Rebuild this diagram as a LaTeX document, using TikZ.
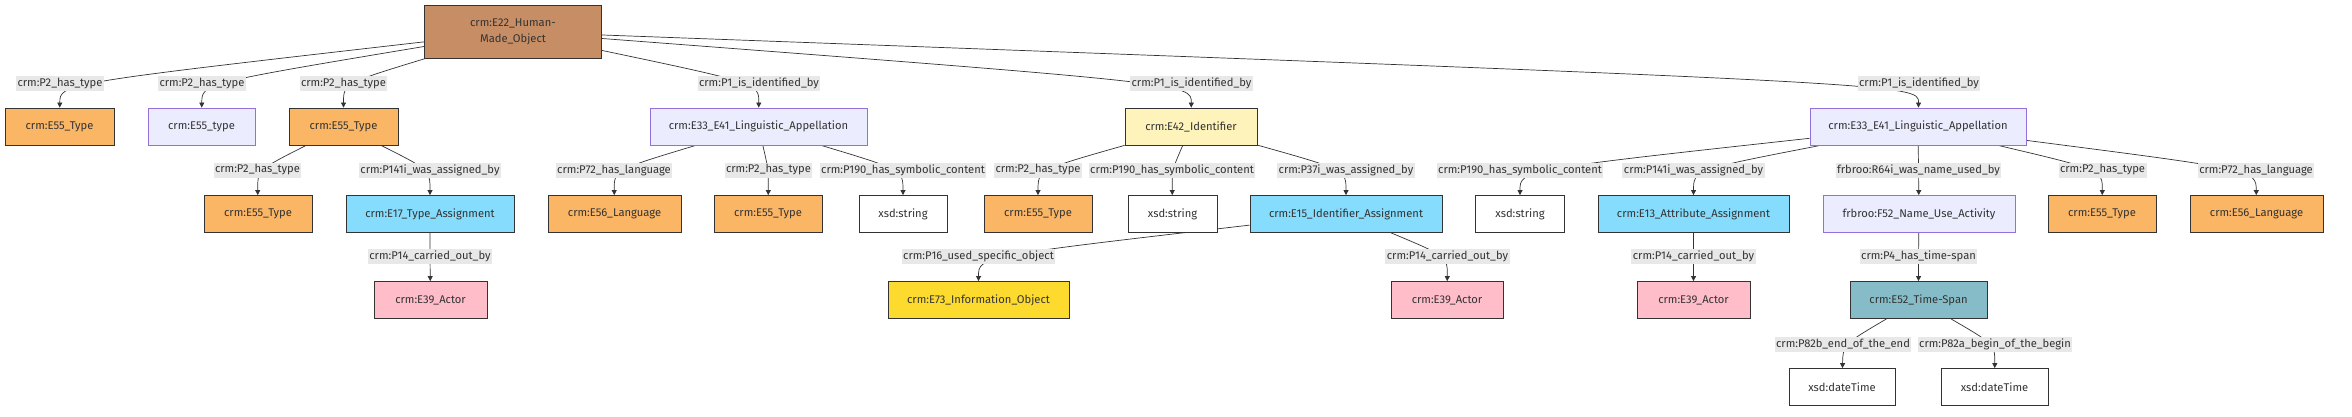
\documentclass[tikz,border=0pt]{standalone}
\usepackage{fontspec}
\setmainfont{Fira Sans}
\usetikzlibrary{arrows.meta,backgrounds}
\definecolor{inkgray}{HTML}{333333}
\definecolor{hmocolor}{HTML}{C78E66}
\definecolor{typecolor}{HTML}{FAB565}
\definecolor{lavfill}{HTML}{ECECFF}
\definecolor{lavline}{HTML}{9370DB}
\definecolor{identcolor}{HTML}{FEF3BA}
\definecolor{assigncolor}{HTML}{86DCFD}
\definecolor{actorcolor}{HTML}{FFBDCA}
\definecolor{infocolor}{HTML}{FDDB2E}
\definecolor{spancolor}{HTML}{86BCC8}
\definecolor{propcolor}{HTML}{E8E8E8}

\begin{document}
\begin{tikzpicture}[x=1pt,y=-1pt,
    every node/.style={font=\fontsize{11.2}{16}\selectfont, text=inkgray},
    entity/.style={draw=inkgray, line width=0.8pt, minimum height=37pt, inner sep=0pt},
    objbox/.style={entity, fill=hmocolor, minimum height=53pt, align=center},
    typebox/.style={entity, fill=typecolor},
    lingbox/.style={entity, fill=lavfill, draw=lavline},
    identbox/.style={entity, fill=identcolor},
    assignbox/.style={entity, fill=assigncolor},
    actorbox/.style={entity, fill=actorcolor},
    infobox/.style={entity, fill=infocolor},
    spanbox/.style={entity, fill=spancolor},
    litbox/.style={entity, fill=white},
    prop/.style={fill=propcolor, inner xsep=1.5pt, inner ysep=0pt, minimum height=15pt},
    link/.style={draw=inkgray, line width=0.7pt, -{Triangle[length=5pt,width=5pt]}}
  ]
  \useasboundingbox (0,0) rectangle (2352,417);

  \node [objbox, minimum width=177pt] (root) at (513,31.75) {crm:E22\_Human-\\Made\_Object}; % root

  % first row
  \node [typebox, minimum width=109pt] (t1) at (59.5,126.5) {crm:E55\_Type};
  \node [lingbox, minimum width=107pt] (t2) at (201.5,126.5) {crm:E55\_type};
  \node [typebox, minimum width=109pt] (t3) at (343.5,126.5) {crm:E55\_Type};
  \node [lingbox, minimum width=217pt] (ling1) at (758.5,126.5) {crm:E33\_E41\_Linguistic\_Appellation};
  \node [identbox, minimum width=132pt] (ident) at (1191,126.5) {crm:E42\_Identifier};
  \node [lingbox, minimum width=216pt] (ling2) at (1918,126.5) {crm:E33\_E41\_Linguistic\_Appellation};

  % second row
  \node [typebox, minimum width=108pt] (t4) at (258,214) {crm:E55\_Type};
  \node [assignbox, minimum width=168pt] (typeasg) at (430,214) {crm:E17\_Type\_Assignment};
  \node [typebox, minimum width=133pt] (lang1) at (614.5,214) {crm:E56\_Language};
  \node [typebox, minimum width=108pt] (t5) at (768,214) {crm:E55\_Type};
  \node [litbox, minimum width=88pt] (str1) at (903,214) {xsd:string};
  \node [typebox, minimum width=108pt] (t6) at (1038,214) {crm:E55\_Type};
  \node [litbox, minimum width=89pt] (str2) at (1172.5,214) {xsd:string};
  \node [assignbox, minimum width=192pt] (identasg) at (1346,214) {crm:E15\_Identifier\_Assignment};
  \node [litbox, minimum width=89pt] (str3) at (1520,214) {xsd:string};
  \node [assignbox, minimum width=191pt] (attrasg) at (1693.5,214) {crm:E13\_Attribute\_Assignment};
  \node [lingbox, minimum width=192pt] (nameuse) at (1919,214) {frbroo:F52\_Name\_Use\_Activity};
  \node [typebox, minimum width=108pt] (t7) at (2102,214) {crm:E55\_Type};
  \node [typebox, minimum width=133pt] (lang2) at (2256.5,214) {crm:E56\_Language};

  % third row
  \node [actorbox, minimum width=113pt] (actor1) at (430.5,300) {crm:E39\_Actor};
  \node [infobox, minimum width=181pt] (infobj) at (978.5,300) {crm:E73\_Information\_Object};
  \node [actorbox, minimum width=112pt] (actor2) at (1447,300) {crm:E39\_Actor};
  \node [actorbox, minimum width=113pt] (actor3) at (1693.5,300) {crm:E39\_Actor};
  \node [spanbox, minimum width=137pt] (tspan) at (1918.5,300) {crm:E52\_Time-Span};

  % fourth row
  \node [litbox, minimum width=106pt] (date1) at (1842,387) {xsd:dateTime};
  \node [litbox, minimum width=107pt] (date2) at (1994.5,387) {xsd:dateTime};

  % property labels
  \node [prop] (p1) at (60,83.5) {crm:P2\_has\_type};
  \node [prop] (p2) at (202,83.5) {crm:P2\_has\_type};
  \node [prop] (p3) at (343.5,83.5) {crm:P2\_has\_type};
  \node [prop] (p4) at (759,83.5) {crm:P1\_is\_identified\_by};
  \node [prop] (p5) at (1191.5,83.5) {crm:P1\_is\_identified\_by};
  \node [prop] (p6) at (1919,83.5) {crm:P1\_is\_identified\_by};
  \node [prop] (p7) at (257.5,170) {crm:P2\_has\_type};
  \node [prop] (p8) at (430,170) {crm:P141i\_was\_assigned\_by};
  \node [prop] (p9) at (614,170) {crm:P72\_has\_language};
  \node [prop] (p10) at (768.5,170) {crm:P2\_has\_type};
  \node [prop] (p11) at (903,170) {crm:P190\_has\_symbolic\_content};
  \node [prop] (p12) at (1038,170) {crm:P2\_has\_type};
  \node [prop] (p13) at (1172,170) {crm:P190\_has\_symbolic\_content};
  \node [prop] (p14) at (1346,170) {crm:P37i\_was\_assigned\_by};
  \node [prop] (p15) at (1520,170) {crm:P190\_has\_symbolic\_content};
  \node [prop] (p16) at (1693.5,170) {crm:P141i\_was\_assigned\_by};
  \node [prop] (p17) at (1918.5,170) {frbroo:R64i\_was\_name\_used\_by};
  \node [prop] (p18) at (2102.5,170) {crm:P2\_has\_type};
  \node [prop] (p19) at (2256,170) {crm:P72\_has\_language};
  \node [prop] (p20) at (430,256.5) {crm:P14\_carried\_out\_by};
  \node [prop] (p21) at (978.5,256.5) {crm:P16\_used\_specific\_object};
  \node [prop] (p22) at (1447.5,256.5) {crm:P14\_carried\_out\_by};
  \node [prop] (p23) at (1693.5,256.5) {crm:P14\_carried\_out\_by};
  \node [prop] (p24) at (1918.5,256.5) {crm:P4\_has\_time-span};
  \node [prop] (p25) at (1843,344.5) {crm:P82b\_end\_of\_the\_end};
  \node [prop] (p26) at (1995,344.5) {crm:P82a\_begin\_of\_the\_begin};

  % links run under the labels
  \begin{scope}[on background layer]
    \foreach \from/\via/\to in {root/p1/t1, root/p2/t2, root/p3/t3, root/p4/ling1,
        root/p5/ident, root/p6/ling2, t3/p7/t4, t3/p8/typeasg, ling1/p9/lang1,
        ling1/p10/t5, ling1/p11/str1, ident/p12/t6, ident/p13/str2, ident/p14/identasg,
        ling2/p15/str3, ling2/p16/attrasg, ling2/p17/nameuse, ling2/p18/t7,
        ling2/p19/lang2, typeasg/p20/actor1, identasg/p21/infobj, identasg/p22/actor2,
        attrasg/p23/actor3, nameuse/p24/tspan, tspan/p25/date1, tspan/p26/date2}
      \draw [link] (\from) .. controls (\via.center) and (\via.center) .. (\to);
  \end{scope}
\end{tikzpicture}
\end{document}
